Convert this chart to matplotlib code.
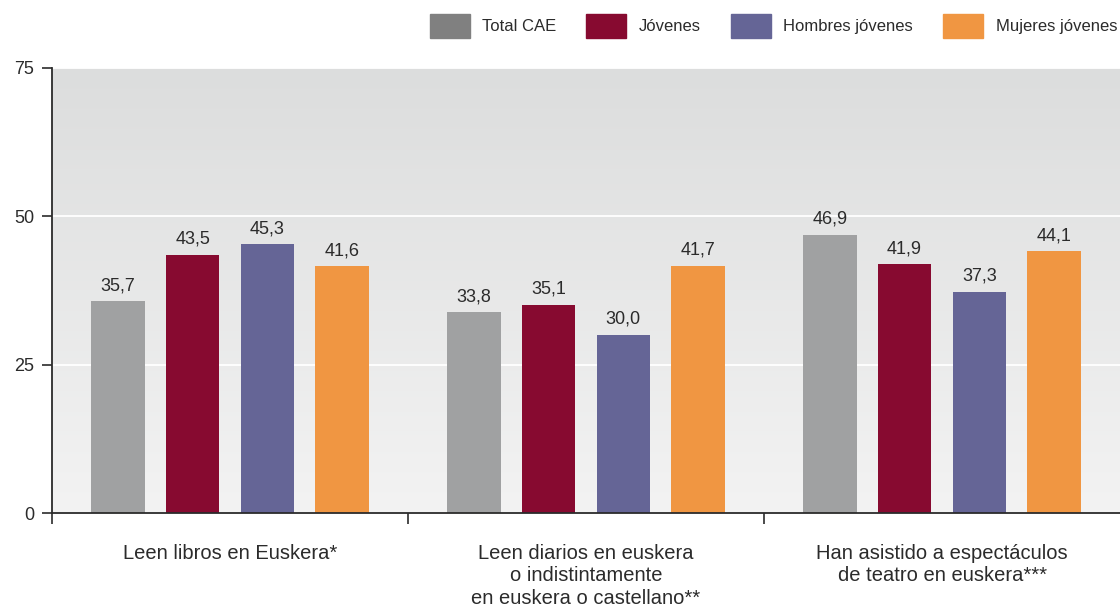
import matplotlib.pyplot as plt
import numpy as np
from matplotlib.patches import Patch

plt.rcParams['font.family'] = ['Liberation Sans', 'DejaVu Sans']

categories = ['Leen libros en Euskera*',
              'Leen diarios en euskera\no indistintamente\nen euskera o castellano**',
              'Han asistido a espectáculos\nde teatro en euskera***']
series = ['Total CAE', 'Jóvenes', 'Hombres jóvenes', 'Mujeres jóvenes']
total_cae = [35.7, 33.8, 46.9]
jovenes = [43.5, 35.1, 41.9]
hombres = [45.3, 30.0, 37.3]
mujeres = [41.6, 41.7, 44.1]
values = [total_cae, jovenes, hombres, mujeres]

bar_colors = ['#a0a1a2', '#870a30', '#656596', '#f09642']
legend_colors = ['#808080', '#870a30', '#656596', '#f09642']
text_col = '#2b2b2b'

fig = plt.figure(figsize=(11.2, 6.11), dpi=100)
ax = fig.add_axes([52 / 1120, 1 - 513 / 611, 1068 / 1120, 445 / 611])

# gradient background
grad = np.linspace(0, 1, 256).reshape(-1, 1)
top = np.array([0xdc, 0xdd, 0xdd]) / 255
bot = np.array([0xf3, 0xf3, 0xf3]) / 255
img = top + (bot - top) * grad[:, :, None] * np.ones((1, 1, 3))
ax.imshow(img, extent=[0, 3, 0, 75], aspect='auto', zorder=0, origin='upper')

x = np.arange(3) + 0.5
offsets = [-0.315, -0.105, 0.105, 0.315]
width = 0.15
for vals, off, col in zip(values, offsets, bar_colors):
    bars = ax.bar(x + off, vals, width, color=col, zorder=3)
    for b, v in zip(bars, vals):
        ax.annotate(f'{v:.1f}'.replace('.', ','),
                    (b.get_x() + b.get_width() / 2, v),
                    xytext=(0, 8), textcoords='offset points',
                    ha='center', va='baseline', fontsize=13, color=text_col)

for yv in [25, 50, 75]:
    ax.axhline(yv, color='white', lw=1.3, zorder=1)

ax.set_xlim(0, 3)
ax.set_ylim(0, 75)
ax.set_yticks([0, 25, 50, 75])
ax.tick_params(axis='y', length=7, width=1.2, color=text_col, pad=6,
               labelsize=13, labelcolor=text_col)
ax.set_xticks([0, 1, 2])
ax.set_xticklabels([])
ax.tick_params(axis='x', which='major', length=8, width=1.2, color=text_col)
ax.set_xticks(x, minor=True)
ax.set_xticklabels(categories, minor=True, fontsize=14.5, color=text_col,
                   linespacing=1.25, va='top')
ax.tick_params(axis='x', which='minor', length=0, pad=22)

for s in ['top', 'right']:
    ax.spines[s].set_visible(False)
for s in ['left', 'bottom']:
    ax.spines[s].set_color(text_col)
    ax.spines[s].set_linewidth(1.3)
    ax.spines[s].set_zorder(4)

handles = [Patch(color=c, label=l) for c, l in zip(legend_colors, series)]
fig.legend(handles=handles, loc='center right', ncol=4, frameon=False,
           bbox_to_anchor=(1117 / 1120, 1 - 26 / 611), fontsize=12,
           handlelength=2.4, handleheight=1.8, handletextpad=0.75,
           columnspacing=1.8, borderpad=0, borderaxespad=0,
           labelcolor=text_col)

fig.savefig('out.png', dpi=100)
